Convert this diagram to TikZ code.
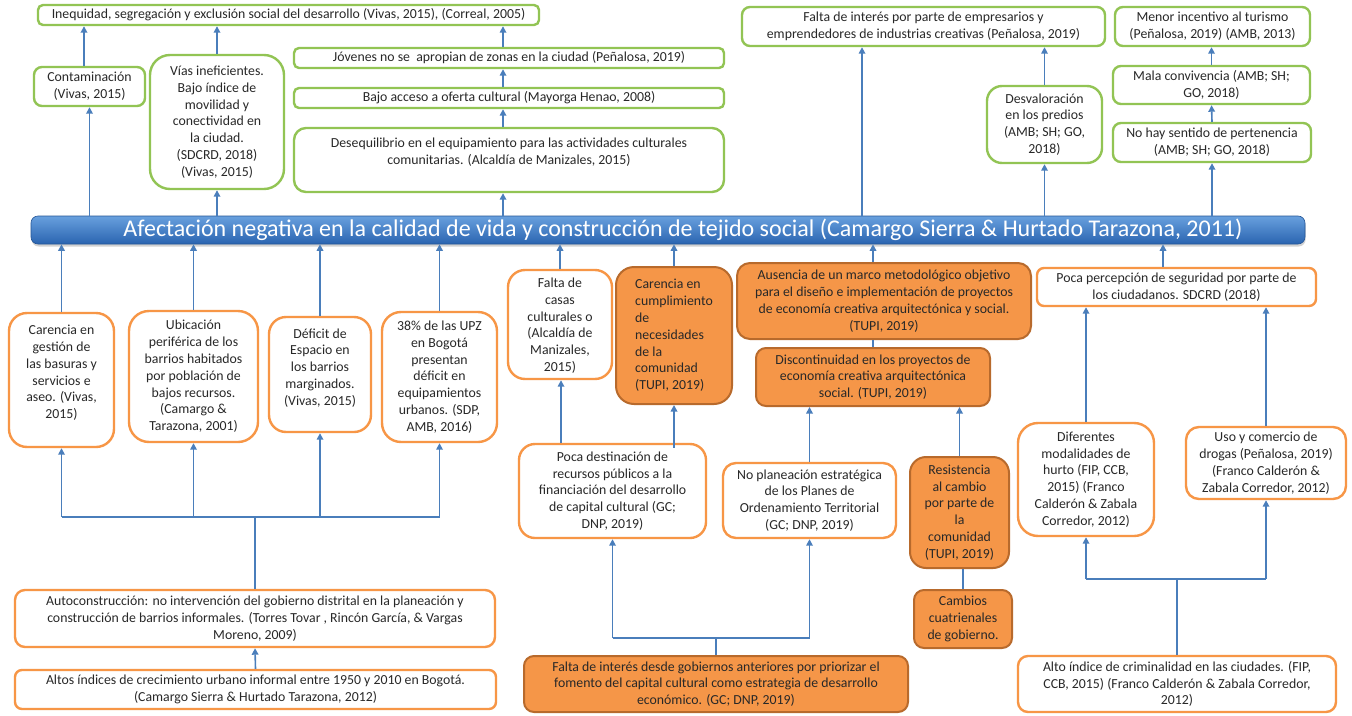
\documentclass[tikz,border=0pt]{standalone}
\usepackage{fontspec}
\setmainfont{Carlito}
\usetikzlibrary{arrows.meta,shadows}

\definecolor{gborder}{RGB}{146,196,84}
\definecolor{oborder}{RGB}{247,150,70}
\definecolor{ofill}{RGB}{245,150,72}
\definecolor{odark}{RGB}{184,106,44}
\definecolor{conn}{RGB}{74,126,187}
\definecolor{barTop}{RGB}{104,160,222}
\definecolor{barBot}{RGB}{42,100,176}
\definecolor{txt}{RGB}{40,40,40}

\tikzset{
  box/.style={line width=2.4pt, align=center, inner sep=0pt, text=txt,
              font=\fontsize{13.8}{16.8}\selectfont},
  gbox/.style={box, draw=gborder, fill=white},
  obox/.style={box, draw=oborder, fill=white},
  fbox/.style={box, draw=odark, fill=ofill, line width=2pt},
  arr/.style={draw=conn, line width=1.6pt, -{Triangle[length=6.5pt,width=6.5pt]}},
  wire/.style={draw=conn, line width=1.6pt},
}

\begin{document}
\begin{tikzpicture}[x=1pt,y=-1pt]
\useasboundingbox (0,0) rectangle (1352,715);
\fill[white] (0,0) rectangle (1352,715);

% ---------- consequences (upper half) ----------
\node[gbox, rounded corners=5pt, minimum width=501pt, minimum height=20pt] (ineq) at (288.5,15)
  {Inequidad, segregación y exclusión social del desarrollo (Vivas, 2015), (Correal, 2005)};
\node[gbox, rounded corners=8pt, minimum width=111pt, minimum height=39pt] (contam) at (89.5,86.5)
  {Contaminación\\(Vivas, 2015)};
\node[gbox, rounded corners=20pt, minimum width=134pt, minimum height=134pt] (vias) at (217,122)
  {Vías ineficientes.\\Bajo índice de\\movilidad y\\conectividad en\\la ciudad.\\(SDCRD, 2018)\\(Vivas, 2015)};
\node[gbox, rounded corners=5pt, minimum width=430pt, minimum height=20pt] (jov) at (509,58)
  {Jóvenes no se\ \ apropian de zonas en la ciudad (Peñalosa, 2019)};
\node[gbox, rounded corners=5pt, minimum width=430pt, minimum height=20pt] (bajo) at (509,98)
  {Bajo acceso a oferta cultural (Mayorga Henao, 2008)};
\node[gbox, rounded corners=12pt, minimum width=430pt, minimum height=64pt] (deseq) at (509,160)
  {Desequilibrio en el equipamiento para las actividades culturales\\comunitarias. (Alcaldía de Manizales, 2015)\\\mbox{}};
\node[gbox, rounded corners=8pt, minimum width=363pt, minimum height=39pt] (falta) at (923.5,26.5)
  {Falta de interés por parte de empresarios y\\emprendedores de industrias creativas (Peñalosa, 2019)};
\node[gbox, rounded corners=15pt, minimum width=115pt, minimum height=77pt] (desv) at (1044.5,124.5)
  {Desvaloración\\en los predios\\(AMB; SH; GO,\\2018)};
\node[gbox, rounded corners=8pt, minimum width=195pt, minimum height=39pt] (menor) at (1212.5,26.5)
  {Menor incentivo al turismo\\(Peñalosa, 2019) (AMB, 2013)};
\node[gbox, rounded corners=8pt, minimum width=197pt, minimum height=38pt] (mala) at (1211.5,85)
  {Mala convivencia (AMB; SH;\\GO, 2018)};
\node[gbox, rounded corners=8pt, minimum width=198pt, minimum height=39pt] (nohay) at (1212,142.5)
  {No hay sentido de pertenencia\\(AMB; SH; GO, 2018)};

% ---------- central problem ----------
\node[rounded corners=7pt, minimum width=1274pt, minimum height=28pt,
      top color=barTop, bottom color=barBot, draw=barBot!85!black, line width=0.6pt,
      drop shadow={opacity=0.35, shadow xshift=0.6pt, shadow yshift=-2.5pt}] (bar) at (668,230) {};
\node[text=white, font=\fontsize{24}{26}\selectfont, inner sep=0pt] (bartext) at (683,230)
  {Afectación negativa en la calidad de vida y construcción de tejido social (Camargo Sierra \& Hurtado Tarazona, 2011)};

% ---------- causes (lower half) ----------
\node[obox, rounded corners=18pt, minimum width=105pt, minimum height=134pt] (carencia) at (61.5,380)
  {Carencia en\\gestión de\\las basuras y\\servicios e\\aseo. (Vivas,\\2015)\\[-0.8pt]\mbox{}};
\node[obox, rounded corners=20pt, minimum width=129pt, minimum height=131pt] (ubic) at (193.5,376.5)
  {Ubicación\\periférica de los\\barrios habitados\\por población de\\bajos recursos.\\(Camargo \&\\Tarazona, 2001)};
\node[obox, rounded corners=17pt, minimum width=102pt, minimum height=115pt] (deficit) at (320,374.5)
  {Déficit de\\Espacio en\\los barrios\\marginados.\\(Vivas, 2015)\\[-1.8pt]\mbox{}};
\node[obox, rounded corners=19pt, minimum width=115pt, minimum height=130pt] (p38) at (439.5,377)
  {38\% de las UPZ\\en Bogotá\\presentan\\déficit en\\equipamientos\\urbanos. (SDP,\\AMB, 2016)};
\node[obox, rounded corners=17pt, minimum width=104pt, minimum height=109pt] (faltacasas) at (560,324.5)
  {\mbox{}\\[-4.8pt]Falta de\\casas\\culturales o\\(Alcaldía de\\Manizales,\\2015)};
\node[fbox, rounded corners=18pt, minimum width=116pt, minimum height=137pt, align=left] (carcump) at (674,335.5)
  {Carencia en\\cumplimiento\\de\\necesidades\\de la\\comunidad\\(TUPI, 2019)};
\node[fbox, rounded corners=13pt, minimum width=294pt, minimum height=76pt] (ausencia) at (884,301)
  {Ausencia de un marco metodológico objetivo\\para el diseño e implementación de proyectos\\de economía creativa arquitectónica y social.\\(TUPI, 2019)};
\node[fbox, rounded corners=10pt, minimum width=234pt, minimum height=58pt] (discont) at (873,377)
  {Discontinuidad en los proyectos de\\economía creativa arquitectónica\\social. (TUPI, 2019)};
\node[obox, rounded corners=7pt, minimum width=279pt, minimum height=38pt] (poca) at (1176.5,287)
  {Poca percepción de seguridad por parte de\\los ciudadanos. SDCRD (2018)};

\node[obox, rounded corners=16pt, minimum width=187pt, minimum height=94pt] (pocadest) at (612.5,491)
  {Poca destinación de\\recursos públicos a la\\financiación del desarrollo\\de capital cultural (GC;\\DNP, 2019)};
\node[obox, rounded corners=13pt, minimum width=173pt, minimum height=75pt] (noplan) at (809.5,500.5)
  {No planeación estratégica\\de los Planes de\\Ordenamiento Territorial\\(GC; DNP, 2019)};
\node[fbox, rounded corners=16pt, minimum width=99pt, minimum height=111pt] (resist) at (959.5,512.5)
  {Resistencia\\al cambio\\por parte de\\la\\comunidad\\(TUPI, 2019)};
\node[fbox, rounded corners=10pt, minimum width=98pt, minimum height=58pt] (cambios) at (963,619)
  {Cambios\\cuatrienales\\de gobierno.};
\node[obox, rounded corners=20pt, minimum width=136pt, minimum height=113pt] (dif) at (1086,479.5)
  {Diferentes\\modalidades de\\hurto (FIP, CCB,\\2015) (Franco\\Calderón \& Zabala\\Corredor, 2012)};
\node[obox, rounded corners=13pt, minimum width=160pt, minimum height=72pt] (uso) at (1266,463)
  {Uso y comercio de\\drogas (Peñalosa, 2019)\\(Franco Calderón \&\\Zabala Corredor, 2012)};

\node[obox, rounded corners=10pt, minimum width=480pt, minimum height=57pt] (auto) at (255,618.5)
  {Autoconstrucción: no intervención del gobierno distrital en la planeación y\\construcción de barrios informales. (Torres Tovar , Rincón García, \& Vargas\\Moreno, 2009)};
\node[obox, rounded corners=7pt, minimum width=481pt, minimum height=39pt] (altos) at (255.5,689.5)
  {Altos índices de crecimiento urbano informal entre 1950 y 2010 en Bogotá.\\(Camargo Sierra \& Hurtado Tarazona, 2012)};
\node[fbox, rounded corners=10pt, minimum width=384pt, minimum height=56pt] (faltaint) at (716,684)
  {Falta de interés desde gobiernos anteriores por priorizar el\\fomento del capital cultural como estrategia de desarrollo\\económico. (GC; DNP, 2019)};
\node[obox, rounded corners=10pt, minimum width=318pt, minimum height=56pt] (alto) at (1177,684)
  {Alto índice de criminalidad en las ciudades. (FIP,\\CCB, 2015) (Franco Calderón \& Zabala Corredor,\\2012)};

% ---------- helper coordinates for off-centre connectors ----------
\coordinate (xa) at (84,0);
\coordinate (xd) at (503,0);
\coordinate (xf) at (862,0);
\coordinate (xau) at (873,0);
\coordinate (xp) at (1163,0);
\coordinate (xc1) at (561,0);
\coordinate (xc2) at (674,0);
\coordinate (hubL) at (255,517);
\coordinate (hubM) at (716,638);
\coordinate (hubR) at (1177,579);

% ---------- connectors: upper half ----------
\draw[arr] (bar.north -| contam.south) -- (contam.south);
\draw[arr] (contam.north -| xa) -- (ineq.south -| xa);
\draw[arr] (bar.north -| vias.south) -- (vias.south);
\draw[arr] (vias.north) -- (ineq.south -| vias.north);
\draw[arr] (bar.north -| xd) -- (deseq.south -| xd);
\draw[arr] (deseq.north -| xd) -- (bajo.south -| xd);
\draw[arr] (bajo.north -| xd) -- (jov.south -| xd);
\draw[arr] (jov.north -| xd) -- (ineq.south -| xd);
\draw[arr] (bar.north -| xf) -- (falta.south -| xf);
\draw[arr] (bar.north -| desv.south) -- (desv.south);
\draw[arr] (desv.north) -- (falta.south -| desv.north);
\draw[arr] (bar.north -| nohay.south) -- (nohay.south);
\draw[arr] (nohay.north) -- (mala.south);
\draw[arr] (mala.north) -- (menor.south -| mala.north);

% ---------- connectors: lower half ----------
\draw[arr] (carencia.north) -- (bar.south -| carencia.north);
\draw[arr] (ubic.north) -- (bar.south -| ubic.north);
\draw[arr] (deficit.north) -- (bar.south -| deficit.north);
\draw[arr] (p38.north) -- (bar.south -| p38.north);
\draw[arr] (faltacasas.north) -- (bar.south -| faltacasas.north);
\draw[arr] (carcump.north) -- (bar.south -| carcump.north);
\draw[arr] (ausencia.north -| xau) -- (bar.south -| xau);
\draw[arr] (poca.north -| xp) -- (bar.south -| xp);
\draw[wire] (discont.north) -- (ausencia.south -| discont.north);

\draw[wire] (auto.north) -- (hubL);
\draw[wire] (hubL -| carencia.south) -- (hubL -| p38.south);
\draw[arr] (hubL -| carencia.south) -- (carencia.south);
\draw[arr] (hubL -| ubic.south) -- (ubic.south);
\draw[arr] (hubL -| deficit.south) -- (deficit.south);
\draw[arr] (hubL -| p38.south) -- (p38.south);
\draw[arr] (altos.north) -- (auto.south);

\draw[wire] (faltaint.north) -- (hubM);
\draw[wire] (hubM -| pocadest.south) -- (hubM -| noplan.south);
\draw[arr] (hubM -| pocadest.south) -- (pocadest.south);
\draw[arr] (hubM -| noplan.south) -- (noplan.south);
\draw[arr] (pocadest.north -| xc1) -- (faltacasas.south -| xc1);
\draw[arr] ([yshift=-5pt]pocadest.north -| xc2) -- (carcump.south -| xc2);
\draw[arr] (noplan.north) -- (discont.south -| noplan.north);
\draw[arr] (resist.north) -- (discont.south -| resist.north);
\draw[wire] (cambios.north) -- (resist.south -| cambios.north);

\draw[wire] (alto.north) -- (hubR);
\draw[wire] (hubR -| dif.south) -- (hubR -| uso.south);
\draw[arr] (hubR -| dif.south) -- (dif.south);
\draw[arr] (hubR -| uso.south) -- (uso.south);
\draw[arr] (dif.north) -- (poca.south -| dif.north);
\draw[arr] (uso.north) -- (poca.south -| uso.north);
\end{tikzpicture}
\end{document}
